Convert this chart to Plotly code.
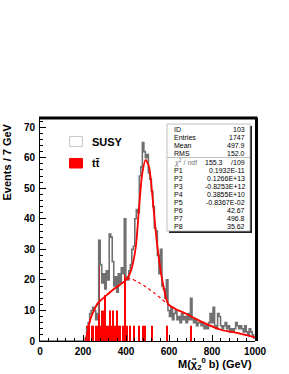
import numpy as np
import plotly.graph_objects as go

# ---------------- data ----------------
BIN_WIDTH = 7.0          # GeV per bin
N_BINS = 143             # 0 .. 1001 GeV

# SUSY histogram: counts from bin index SUSY_FIRST_BIN onwards (earlier bins empty)
SUSY_FIRST_BIN = 30
susy_counts = [1, 4, 6, 9, 10, 11, 10, 7, 9, 33,
               25, 19, 22, 17, 23, 20, 35, 34, 26, 18,
               21, 16, 22, 19, 24, 22, 40, 21, 20, 23,
               25, 30, 31, 40, 43, 42, 54, 57, 65, 62,
               60, 61, 55, 53, 49, 44, 37, 36, 28, 22,
               30, 18, 17, 14, 20, 10, 8, 11, 7, 9,
               10, 7, 8, 6, 9, 7, 8, 6, 9, 7,
               14, 7, 6, 7, 5, 6, 6, 5, 6, 4,
               5, 4, 6, 9, 6, 11, 5, 4, 9, 8,
               5, 4, 5, 6, 4, 5, 3, 4, 3, 4,
               6, 5, 4, 5, 4, 3, 5, 3, 2, 4,
               3, 2, 1]

# ttbar histogram: non-empty bins (bin index) and their contents
ttbar_bins = [31, 32, 34, 35, 37, 38, 39, 40, 41, 42, 43, 44, 45, 46, 47, 48, 49,
              50, 51, 52, 53, 55, 56, 57, 59, 62, 65, 68, 69, 74, 84, 100]
ttbar_counts = [5, 5, 5, 5, 5, 5, 25, 5, 10, 10, 15, 5, 5, 10, 5, 10, 5,
                5, 10, 5, 5, 5, 25, 5, 5, 5, 5, 5, 5, 5, 5, 5]

# total fit curve
fit_mass = [212, 233, 251, 270, 302, 340, 372, 403, 422, 445, 460, 476, 491, 507,
            523, 538, 553, 574, 597, 630, 674, 720, 767, 845, 921, 1000]
fit_value = [0, 6.9, 10, 12.5, 14.5, 16.8, 18.4, 20.2, 22.8, 30.5, 43, 55, 59.3, 57,
             47.3, 36, 27, 18, 12, 10.5, 9.1, 7.4, 5.8, 3.6, 2.6, 1.2]

# background part of the fit (dotted)
bg_mass = [212, 233, 251, 270, 302, 340, 372, 403, 420, 453, 480, 499, 530, 561,
           585, 600, 630, 674, 720, 767, 845, 921, 1000]
bg_value = [0, 6.9, 10, 12.5, 14.5, 16.8, 18.4, 20.0, 20.5, 19.4, 18.3, 17.4, 15.8,
            14, 12.6, 11.8, 10.5, 9.1, 7.4, 5.8, 3.6, 2.6, 1.2]

x_ticks = [0, 200, 400, 600, 800, 1000]
y_ticks = [0, 10, 20, 30, 40, 50, 60, 70]

stats_labels = ["ID", "Entries", "Mean", "RMS"]
stats_values = ["103", "1747", "497.9", "152.0"]
chi2_text = ("155.3", "109")
par_labels = ["P1", "P2", "P3", "P4", "P5", "P6", "P7", "P8"]
par_values = ["0.1932E-11", "0.1266E+13", "-0.8253E+12", "0.3855E+10",
              "-0.8367E-02", "42.67", "496.8", "35.62"]

# ---------------- build ----------------
edges = np.arange(N_BINS + 1) * BIN_WIDTH
susy = np.zeros(N_BINS)
susy[SUSY_FIRST_BIN:SUSY_FIRST_BIN + len(susy_counts)] = susy_counts
tt_centers = (np.array(ttbar_bins) + 0.5) * BIN_WIDTH

# pixel geometry of the plot area
L, R, T, B = 40, 255, 118, 341
W, H = 289, 374
def px(x):
    return (x - L) / (R - L)
def py(y):
    return (B - y) / (B - T)

FONT = "Liberation Sans"

fig = go.Figure()
fig.add_trace(go.Scatter(
    x=np.append(edges[:-1], edges[-1]), y=np.append(susy, susy[-1]),
    mode="lines", line=dict(shape="hv", color="#707070", width=1.6),
    hoverinfo="skip", showlegend=False))
fig.add_trace(go.Bar(
    x=tt_centers, y=ttbar_counts, width=BIN_WIDTH * 0.72,
    marker=dict(color="#ff0000", line=dict(width=0)), showlegend=False))
fig.add_trace(go.Scatter(
    x=bg_mass, y=bg_value, mode="lines",
    line=dict(color="#ff0000", width=1.2, dash="dot", shape="spline", smoothing=0.8),
    showlegend=False))
fig.add_trace(go.Scatter(
    x=fit_mass, y=fit_value, mode="lines",
    line=dict(color="#ff0000", width=1.8, shape="spline", smoothing=0.8),
    showlegend=False))

shapes = []
annotations = []

# frame: thick top and right edges
shapes.append(dict(type="line", xref="paper", yref="paper",
                   x0=px(39), x1=px(257.5), y0=py(118), y1=py(118),
                   line=dict(color="black", width=3)))
shapes.append(dict(type="line", xref="paper", yref="paper",
                   x0=px(256.5), x1=px(256.5), y0=py(118), y1=py(341),
                   line=dict(color="black", width=3)))

# stats box with shadow
shapes.append(dict(type="rect", xref="paper", yref="paper",
                   x0=px(169), x1=px(252), y0=py(126), y1=py(233),
                   fillcolor="#222222", line=dict(width=0), layer="above"))
shapes.append(dict(type="rect", xref="paper", yref="paper",
                   x0=px(167), x1=px(250), y0=py(124), y1=py(231),
                   fillcolor="white", line=dict(color="#b0b0b0", width=0.8), layer="above"))
shapes.append(dict(type="line", xref="paper", yref="paper",
                   x0=px(167), x1=px(250), y0=py(157.5), y1=py(157.5),
                   line=dict(color="#b0b0b0", width=0.8), layer="above"))

SF = dict(family=FONT, size=7, color="black")
rows_y = [129, 137, 145, 153]
for lab, val, yy in zip(stats_labels, stats_values, rows_y):
    annotations.append(dict(x=px(172), y=py(yy), xref="paper", yref="paper", text=lab,
                            showarrow=False, xanchor="left", yanchor="middle", font=SF))
    annotations.append(dict(x=px(247), y=py(yy), xref="paper", yref="paper", text=val,
                            showarrow=False, xanchor="right", yanchor="middle", font=SF))
annotations.append(dict(x=px(172), y=py(162), xref="paper", yref="paper",
                        text="<i>χ</i><sup>2</sup> / ndf", showarrow=False,
                        xanchor="left", yanchor="middle",
                        font=dict(family=FONT, size=7, color="#777777")))
annotations.append(dict(x=px(225), y=py(162), xref="paper", yref="paper", text=chi2_text[0],
                        showarrow=False, xanchor="right", yanchor="middle", font=SF))
annotations.append(dict(x=px(231.5), y=py(162), xref="paper", yref="paper", text="/",
                        showarrow=False, xanchor="center", yanchor="middle", font=SF))
annotations.append(dict(x=px(247), y=py(162), xref="paper", yref="paper", text=chi2_text[1],
                        showarrow=False, xanchor="right", yanchor="middle", font=SF))
for i, (lab, val) in enumerate(zip(par_labels, par_values)):
    yy = 170 + 8 * i
    annotations.append(dict(x=px(172), y=py(yy), xref="paper", yref="paper", text=lab,
                            showarrow=False, xanchor="left", yanchor="middle", font=SF))
    annotations.append(dict(x=px(247), y=py(yy), xref="paper", yref="paper", text=val,
                            showarrow=False, xanchor="right", yanchor="middle", font=SF))

# legend
shapes.append(dict(type="rect", xref="paper", yref="paper",
                   x0=px(69.5), x1=px(82.5), y0=py(136.5), y1=py(146.5),
                   fillcolor="white", line=dict(color="#c8c8c8", width=1)))
shapes.append(dict(type="rect", xref="paper", yref="paper",
                   x0=px(69.5), x1=px(82.5), y0=py(158.5), y1=py(168),
                   fillcolor="#ff0000", line=dict(color="#ff0000", width=1)))
LF = dict(family=FONT, size=11, color="black", weight="bold")
annotations.append(dict(x=px(90), y=py(141.5), xref="paper", yref="paper", text="SUSY",
                        showarrow=False, xanchor="left", yanchor="middle", font=LF))
annotations.append(dict(x=px(90), y=py(163), xref="paper", yref="paper", text="tt\u0304",
                        showarrow=False, xanchor="left", yanchor="middle", font=LF))

# axis titles
TF = dict(family=FONT, size=11, color="black", weight="bold")
annotations.append(dict(x=px(6), y=py(122), xref="paper", yref="paper",
                        text="Events / 7 GeV", textangle=-90, showarrow=False,
                        xanchor="center", yanchor="top", font=TF))
annotations.append(dict(x=px(254), y=py(364), xref="paper", yref="paper",
                        text="M(χ\u0303<sub>2</sub><sup>0</sup> b) (GeV)", showarrow=False,
                        xanchor="right", yanchor="middle", font=TF))

TK = dict(family=FONT, size=10, color="black", weight="bold")
fig.update_layout(
    width=W, height=H, autosize=False,
    margin=dict(l=L, r=W - R, t=T, b=H - B, pad=0),
    paper_bgcolor="white", plot_bgcolor="white",
    barmode="overlay", showlegend=False,
    shapes=shapes, annotations=annotations,
    xaxis=dict(range=[0, 1000], tickvals=x_ticks, ticktext=[str(v) for v in x_ticks],
               ticks="inside", ticklen=6, tickwidth=1, tickcolor="black",
               minor=dict(ticks="inside", dtick=40, ticklen=3, tickcolor="black"),
               showline=True, linecolor="black", linewidth=1, mirror=False,
               showgrid=False, zeroline=False, tickfont=TK, ticklabelstandoff=1,
               automargin=False),
    yaxis=dict(range=[0, 73], tickvals=y_ticks, ticktext=[str(v) for v in y_ticks],
               ticks="inside", ticklen=6, tickwidth=1, tickcolor="black",
               minor=dict(ticks="inside", dtick=2, ticklen=3, tickcolor="black"),
               showline=True, linecolor="black", linewidth=1, mirror=False,
               showgrid=False, zeroline=False, tickfont=TK, ticklabelstandoff=2,
               automargin=False),
)

fig.write_html("out.html", config={"displayModeBar": False},
               post_script="document.body.style.margin='0px';document.body.style.padding='0px';")
